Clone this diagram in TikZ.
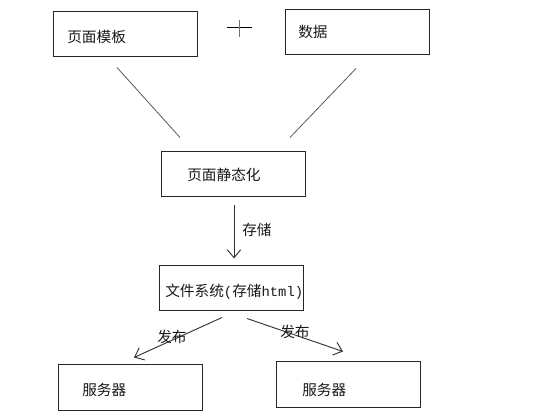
\documentclass[tikz,border=0pt]{standalone}
\usepackage{fontspec}
\setmainfont{Noto Sans CJK SC}
\newfontfamily\monof{Liberation Mono}
\usetikzlibrary{arrows.meta}
\begin{document}
\begin{tikzpicture}[x=0.75pt,y=-0.75pt,
  box/.style={draw=black!85,line width=0.75pt,minimum width=108pt,minimum height=33.75pt,inner sep=0pt},
  txt/.style={anchor=west,inner sep=0pt,font=\fontsize{11}{13}\selectfont,text=black!90},
  link/.style={draw=black!65,line width=0.6pt},
  arr/.style={draw=black!80,line width=0.7pt,-{Straight Barb[length=6pt,width=10pt,line width=0.7pt]}}]
\useasboundingbox (0,0) rectangle (550,420);
% boxes
\node[box] (b1) at (125,34.5) {};
\node[box] (b2) at (357,32.5) {};
\node[box] (b3) at (233.5,174.5) {};
\node[box] (b4) at (231,288.5) {};
\node[box] (b5) at (130,387.5) {};
\node[box] (b6) at (348,384.5) {};
% box texts
\node[txt] (t1) at (67,37) {页面模板};
\node[txt] (t2) at (298,32) {数据};
\node[txt] (t3) at (187,175) {页面静态化};
\node[txt] (t4) at (165,292) {文件系统{\monof\fontsize{10.4}{13}\selectfont(}存储{\monof\fontsize{10.4}{13}\selectfont html)}};
\node[txt] (t5) at (82,390) {服务器};
\node[txt] (t6) at (302,390) {服务器};
% plus sign
\draw[black,line width=0.75pt] (227,28) -- (252,28);
\draw[black!55,line width=1pt] (239.5,20) -- (239.5,37);
% connectors
\draw[link] ([shift={(-8,10)}]b1.south) -- ([shift={(-53.5,-14)}]b3.north);
\draw[link] ([shift={(-1,13)}]b2.south) -- ([shift={(56.5,-14)}]b3.north);
\draw[arr] ([shift={(0.5,8)}]b3.south) -- ([shift={(3,-7)}]b4.north);
\draw[arr] ([shift={(-9,6)}]b4.south) -- ([shift={(4,-7)}]b5.north);
\draw[arr] ([shift={(16,7)}]b4.south) -- ([shift={(-5,-10)}]b6.north);
% connector labels
\node[txt] (l1) at (242,230) {存储};
\node[txt] (l2) at (157,337) {发布};
\node[txt] (l3) at (280,332) {发布};
\end{tikzpicture}
\end{document}
